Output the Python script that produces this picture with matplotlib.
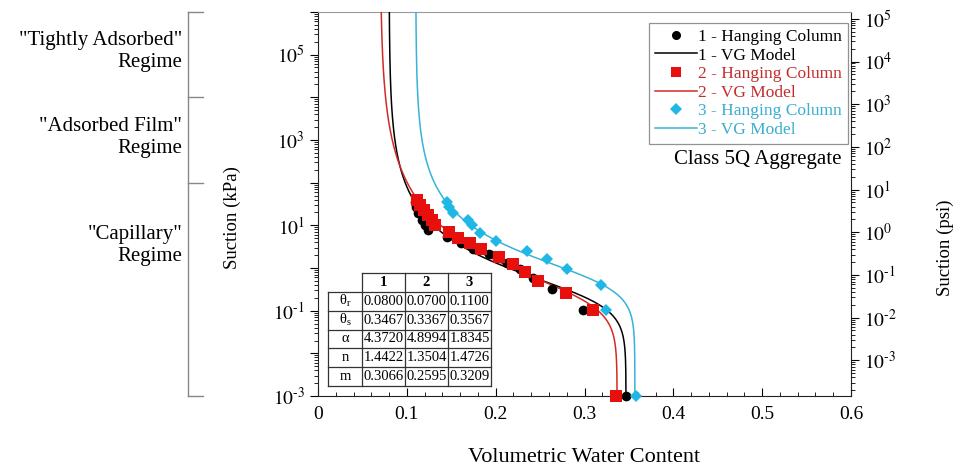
import numpy as np
import matplotlib
matplotlib.use("Agg")
import matplotlib.pyplot as plt
from matplotlib.lines import Line2D
from matplotlib.ticker import LogLocator, FuncFormatter, MultipleLocator, NullFormatter
import matplotlib.transforms as mtransforms

plt.rcParams['font.family'] = ['Liberation Serif', 'DejaVu Serif']
plt.rcParams['mathtext.fontset'] = 'stix'

# van Genuchten fit parameters for the three gradations
names = ['1', '2', '3']
theta_r = [0.0800, 0.0700, 0.1100]
theta_s = [0.3467, 0.3367, 0.3567]
alpha = [4.3720, 4.8994, 1.8345]
n_vg = [1.4422, 1.3504, 1.4726]
m_vg = [0.3066, 0.2595, 0.3209]

# hanging column measurements: volumetric water content vs suction (kPa)
hc1_theta = [0.109, 0.110, 0.113, 0.117, 0.121, 0.124, 0.145, 0.161, 0.175, 0.193,
             0.213, 0.227, 0.242, 0.263, 0.298, 0.347]
hc1_suction = [36, 27, 19, 13.4, 10.2, 7.8, 5.2, 3.8, 2.8, 2.1,
               1.33, 0.95, 0.59, 0.32, 0.105, 0.001]

hc2_theta = [0.111, 0.115, 0.119, 0.124, 0.128, 0.132, 0.148, 0.158, 0.171, 0.184,
             0.204, 0.219, 0.233, 0.248, 0.279, 0.310, 0.336]
hc2_suction = [40, 30, 23, 17.3, 13.4, 10.2, 7.1, 5.0, 3.8, 2.75,
               1.85, 1.24, 0.79, 0.50, 0.26, 0.105, 0.001]

hc3_theta = [0.145, 0.147, 0.152, 0.169, 0.173, 0.182, 0.200, 0.235, 0.258, 0.280,
             0.319, 0.324, 0.358]
hc3_suction = [36, 27.6, 19, 13.4, 10.2, 6.5, 4.4, 2.56, 1.6, 0.95,
               0.39, 0.105, 0.001]

KPA_TO_PSI = 0.1450377

colors = ['black', '#e8100c', '#1fb8e6']
line_colors = ['black', '#d42a24', '#35b4d8']
text_colors = ['black', '#c42c2c', '#3aaed0']
markers = ['o', 's', 'D']
msizes = [7, 8, 6.5]


def vg_theta(h, tr, ts, a, n, m):
    return tr + (ts - tr) / (1.0 + (a * h) ** n) ** m


def decade_label(v):
    e = int(round(np.log10(v)))
    if e < 0:
        return rf'$10^{{\text{{-}}{-e}}}$'
    return rf'$10^{{{e}}}$'


fig = plt.figure(figsize=(9.59, 4.68), dpi=100)
ax = fig.add_axes([0.3316, 0.1538, 0.5558, 0.8206])

h = np.logspace(-3, 6, 600)
hc_theta = [hc1_theta, hc2_theta, hc3_theta]
hc_suction = [hc1_suction, hc2_suction, hc3_suction]

for i in range(3):
    ax.plot(vg_theta(h, theta_r[i], theta_s[i], alpha[i], n_vg[i], m_vg[i]), h,
            color=line_colors[i], lw=1.1, zorder=3)
for i in range(3):
    ax.plot(hc_theta[i], hc_suction[i], linestyle='none', marker=markers[i],
            color=colors[i], ms=msizes[i], mew=0, zorder=4, clip_on=False)

ax.set_yscale('log')
ax.set_xlim(0, 0.6)
ax.set_ylim(1e-3, 1e6)

ax.xaxis.set_major_locator(MultipleLocator(0.1))
ax.xaxis.set_minor_locator(MultipleLocator(0.02))
ax.xaxis.set_major_formatter(FuncFormatter(lambda v, p: '0' if abs(v) < 1e-9 else f'{v:.1f}'))
ax.tick_params(axis='x', which='both', direction='in', top=False, labelsize=14, pad=7)
ax.tick_params(axis='x', which='major', length=6)
ax.tick_params(axis='x', which='minor', length=3)

ax.yaxis.set_major_locator(LogLocator(base=10, numticks=20))
ax.yaxis.set_minor_locator(LogLocator(base=10, subs=np.arange(2, 10), numticks=20))
ax.yaxis.set_minor_formatter(NullFormatter())
# only odd decades carry a label on the kPa axis
ax.yaxis.set_major_formatter(FuncFormatter(
    lambda v, p: decade_label(v) if int(round(np.log10(v))) % 2 != 0 else ''))
ax.tick_params(axis='y', which='both', direction='out', right=False, labelsize=14)
ax.tick_params(axis='y', which='major', length=6)
ax.tick_params(axis='y', which='minor', length=3)

for s in ['left', 'bottom', 'right']:
    ax.spines[s].set_color('#222222')
ax.spines['top'].set_color('#999999')

ax.set_xlabel('Volumetric Water Content', fontsize=16, labelpad=18)

# right axis in psi
ax2 = ax.twinx()
ax2.set_yscale('log')
ax2.set_ylim(1e-3 * KPA_TO_PSI, 1e6 * KPA_TO_PSI)
ax2.yaxis.set_major_locator(LogLocator(base=10, numticks=20))
ax2.yaxis.set_minor_locator(LogLocator(base=10, subs=np.arange(2, 10), numticks=20))
ax2.yaxis.set_minor_formatter(NullFormatter())
ax2.yaxis.set_major_formatter(FuncFormatter(lambda v, p: decade_label(v)))
ax2.tick_params(axis='y', which='both', direction='out', labelsize=14)
ax2.tick_params(axis='y', which='major', length=6)
ax2.tick_params(axis='y', which='minor', length=3)
for s in ax2.spines.values():
    s.set_visible(False)

# axis titles for both suction scales
fig.text(232 / 959, 1 - 218 / 468, 'Suction (kPa)', rotation=90,
         ha='center', va='center', fontsize=13.5)
fig.text(945 / 959, 1 - 248 / 468, 'Suction (psi)', rotation=90,
         ha='center', va='center', fontsize=13.5)

# legend
handles = []
labels = []
for i in range(3):
    handles.append(Line2D([], [], linestyle='none', marker=markers[i], color=colors[i],
                          ms=msizes[i] - 0.5, mew=0))
    labels.append(f'{names[i]} - Hanging Column')
    handles.append(Line2D([], [], color=line_colors[i], lw=1.1))
    labels.append(f'{names[i]} - VG Model')
leg = ax2.legend(handles, labels, loc='upper right', bbox_to_anchor=(0.995, 0.972),
                 fontsize=12.5, frameon=True, fancybox=False, edgecolor='#777777',
                 handlelength=2.4, handletextpad=0.1, labelspacing=0.14,
                 borderpad=0.35, borderaxespad=0)
leg.get_frame().set_linewidth(0.9)
for t, c in zip(leg.get_texts(), [text_colors[0], text_colors[0], text_colors[1],
                                  text_colors[1], text_colors[2], text_colors[2]]):
    t.set_color(c)

ax.text(0.983, 0.615, 'Class 5Q Aggregate', transform=ax.transAxes,
        ha='right', va='center', fontsize=15)

# parameter table
col_x = [0.0188, 0.0826, 0.1632, 0.2439, 0.3246]
row_y = np.linspace(0.320, 0.026, 7)
row_names = [r'$\mathregular{θ_r}$', r'$\mathregular{θ_s}$', 'α', 'n', 'm']
row_vals = [theta_r, theta_s, alpha, n_vg, m_vg]
tk = dict(transform=ax.transAxes, color='#333333', lw=0.9, zorder=5)
ax.plot([col_x[1], col_x[-1]], [row_y[0], row_y[0]], **tk)
for y in row_y[1:]:
    ax.plot([col_x[0], col_x[-1]], [y, y], **tk)
ax.plot([col_x[0], col_x[0]], [row_y[1], row_y[-1]], **tk)
for x in col_x[1:]:
    ax.plot([x, x], [row_y[0], row_y[-1]], **tk)
for j in range(3):
    xc = (col_x[j + 1] + col_x[j + 2]) / 2
    ax.text(xc, (row_y[0] + row_y[1]) / 2, names[j], transform=ax.transAxes,
            ha='center', va='center', fontsize=10.5, fontweight='bold')
for r in range(5):
    yc = (row_y[r + 1] + row_y[r + 2]) / 2
    ax.text((col_x[0] + col_x[1]) / 2, yc, row_names[r], transform=ax.transAxes,
            ha='center', va='center', fontsize=10.5)
    for j in range(3):
        xc = (col_x[j + 1] + col_x[j + 2]) / 2
        ax.text(xc, yc, f'{row_vals[r][j]:.4f}', transform=ax.transAxes,
                ha='center', va='center', fontsize=10.5)

# suction regime brackets on the left
tr = mtransforms.blended_transform_factory(ax.transAxes, ax.transData)
bx = -0.244
bk = dict(transform=tr, color='#888888', lw=1.0, clip_on=False)
ax.plot([bx, bx], [1e6, 1e-3], **bk)
for yb in [1e6, 1e4, 1e2, 1e-3]:
    ax.plot([bx, bx + 0.028], [yb, yb], **bk)

regimes = ['"Tightly Adsorbed"\nRegime', '"Adsorbed Film"\nRegime', '"Capillary"\nRegime']
regime_y = [10 ** 5.07, 10 ** 3.05, 10 ** 0.53]
for lab, yv in zip(regimes, regime_y):
    ax.text(-0.255, yv, lab, transform=tr, ha='right', va='center',
            multialignment='right', fontsize=15, linespacing=1.2, clip_on=False)

fig.savefig('out.png', dpi=100)
